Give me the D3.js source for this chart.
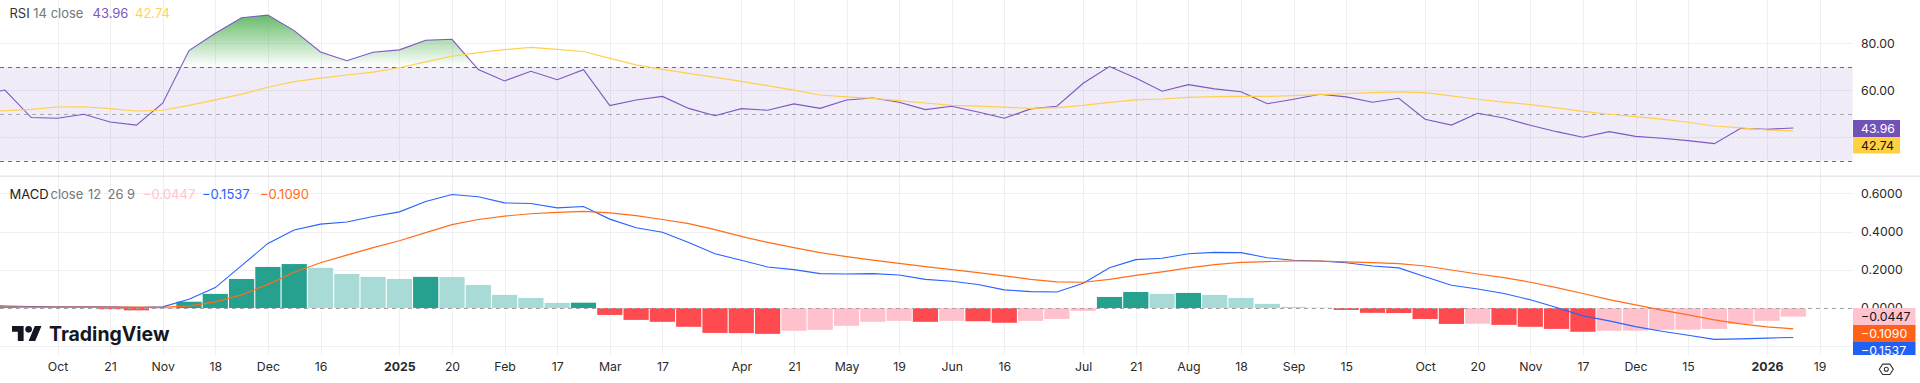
<!DOCTYPE html>
<html>
<head>
<meta charset="utf-8">
<script src="https://cdn.jsdelivr.net/npm/d3@7"></script>
<style>
html,body{margin:0;padding:0;background:#fff;overflow:hidden}
svg{display:block;font-family:Inter,Roboto,sans-serif}
.tick text{font-family:Inter,Roboto,sans-serif;font-size:12.3px;fill:#2a2a2a}
</style>
</head>
<body>
<svg id="chart" width="1920" height="383"></svg>
<script>
// Weekly bars; first entry is the week of 2024-09-16
const firstWeek = "2024-09-16";
const rsi = [58,60.1,48.4,48.1,49.8,46.5,45.2,54.5,76.9,84.3,90.9,92,85.4,76.3,72.6,76.2,77.2,81.3,81.7,68.8,64,68.1,64.5,68.8,53.5,55.9,57.4,52.3,49.2,52.2,51.5,54.2,52.3,55.9,56.7,54.9,51.8,53.2,50.8,48.1,52.1,53.2,63,70.1,65.2,59.6,62.4,60.6,59.4,54.3,56.2,58.3,57.2,54.9,56.6,47.7,45.2,50.2,48.2,45.1,42.4,40,42.4,40.4,39.6,38.6,37.3,43.8,43.4,43.96];
const rsiMa = [51,51.3,51.9,52.9,53,52.2,51.2,51.5,53.6,55.9,58.4,61.3,63.7,65.2,66.5,67.7,69.6,72.1,74.5,76,77.3,78.3,77.4,76.5,73.6,70.8,68.9,67.2,65.5,63.8,62,60.1,58,57.2,56.6,55.6,54.6,53.6,53.3,52.8,52.3,52.6,53.6,54.9,55.9,56.3,57,57.3,57.4,57.4,57.7,58.2,58.6,59,59.3,59,57.6,56.2,55,53.9,52.5,51,49.8,48.8,47.7,46.4,44.8,44,43.1,42.74];
const macd = [0.013,0.011,0.008,0.006,0.006,0.006,0.003,0.006,0.046,0.107,0.222,0.338,0.408,0.439,0.45,0.479,0.503,0.557,0.594,0.582,0.55,0.547,0.524,0.531,0.465,0.42,0.396,0.343,0.284,0.25,0.215,0.201,0.18,0.178,0.18,0.173,0.15,0.14,0.123,0.095,0.086,0.084,0.13,0.211,0.253,0.26,0.284,0.291,0.29,0.263,0.25,0.246,0.237,0.22,0.21,0.164,0.119,0.1,0.076,0.043,0.003,-0.041,-0.067,-0.097,-0.121,-0.142,-0.164,-0.161,-0.157,-0.1537];
const signal = [0.003,0.005,0.005,0.005,0.005,0.005,0.005,0.004,0.011,0.032,0.069,0.124,0.187,0.237,0.277,0.316,0.352,0.394,0.436,0.463,0.481,0.493,0.5,0.505,0.498,0.483,0.463,0.441,0.41,0.375,0.343,0.316,0.29,0.269,0.251,0.234,0.217,0.201,0.185,0.168,0.15,0.137,0.135,0.15,0.171,0.189,0.21,0.227,0.239,0.243,0.246,0.246,0.241,0.237,0.232,0.22,0.199,0.178,0.159,0.135,0.107,0.076,0.044,0.017,-0.011,-0.036,-0.062,-0.083,-0.098,-0.109];
const hist = [0.006,0.008,0.004,0.003,0.002,-0.006,-0.012,-0.004,0.033,0.074,0.152,0.215,0.23,0.21,0.178,0.163,0.152,0.163,0.162,0.121,0.069,0.053,0.027,0.028,-0.036,-0.062,-0.072,-0.098,-0.13,-0.131,-0.135,-0.119,-0.114,-0.093,-0.072,-0.067,-0.072,-0.067,-0.069,-0.077,-0.067,-0.057,-0.015,0.058,0.084,0.074,0.079,0.069,0.053,0.022,0.006,0.002,-0.01,-0.025,-0.026,-0.057,-0.083,-0.082,-0.088,-0.098,-0.109,-0.124,-0.119,-0.118,-0.114,-0.113,-0.109,-0.083,-0.067,-0.0447];

const tickDates = ["2024-10-07","2024-10-21","2024-11-04","2024-11-18","2024-12-02","2024-12-16","2025-01-06","2025-01-20","2025-02-03","2025-02-17","2025-03-03","2025-03-17","2025-04-07","2025-04-21","2025-05-05","2025-05-19","2025-06-02","2025-06-16","2025-07-07","2025-07-21","2025-08-04","2025-08-18","2025-09-01","2025-09-15","2025-10-06","2025-10-20","2025-11-03","2025-11-17","2025-12-01","2025-12-15","2026-01-05","2026-01-19"];
const tickLabels = ["Oct","21","Nov","18","Dec","16","2025","20","Feb","17","Mar","17","Apr","21","May","19","Jun","16","Jul","21","Aug","18","Sep","15","Oct","20","Nov","17","Dec","15","2026","19"];
const rsiTicks = [80,60];
const rsiGrid = [80,60,40];
const rsiLevels = [70,50,30];
const macdTicks = [0.6,0.4,0.2,0];
const macdGrid = [0.6,0.4,0.2,-0.2];

const parse = d3.utcParse("%Y-%m-%d");
const weeks = rsi.map((_, i) => d3.utcDay.offset(parse(firstWeek), i * 7));
const plotR = 1852.5, plotB = 355;

const x = d3.scaleUtc().domain([parse("2024-10-07"), parse("2026-01-05")]).range([57.5, 1767]);
const yR = d3.scaleLinear().domain([80, 40]).range([43.3, 137.3]);
const yM = d3.scaleLinear().domain([0.6, -0.2]).range([193.3, 346.3]);

const svg = d3.select("#chart");
const defs = svg.append("defs");
defs.append("clipPath").attr("id", "plot").append("rect").attr("x", 0).attr("y", 0).attr("width", plotR).attr("height", plotB);
defs.append("clipPath").attr("id", "ob").append("rect").attr("x", 0).attr("y", 0).attr("width", plotR).attr("height", yR(70));
defs.append("clipPath").attr("id", "tags").append("rect").attr("x", 1853).attr("y", 300).attr("width", 67).attr("height", plotB - 300);
const grad = defs.append("linearGradient").attr("id", "obFill").attr("gradientUnits", "userSpaceOnUse")
  .attr("x1", 0).attr("x2", 0).attr("y1", yR(92)).attr("y2", yR(70));
grad.append("stop").attr("offset", 0).attr("stop-color", "#4caf50").attr("stop-opacity", 0.85);
grad.append("stop").attr("offset", 1).attr("stop-color", "#4caf50").attr("stop-opacity", 0);
const pat = defs.append("pattern").attr("id", "dots").attr("width", 5).attr("height", 5).attr("patternUnits", "userSpaceOnUse");
pat.append("rect").attr("width", 5).attr("height", 5).attr("fill", "rgba(126,87,194,0.115)");
pat.append("rect").attr("x", 1).attr("y", 1).attr("width", 1).attr("height", 1).attr("fill", "rgba(126,87,194,0.05)");
pat.append("rect").attr("x", 3).attr("y", 3).attr("width", 1).attr("height", 1).attr("fill", "rgba(126,87,194,0.05)");

const gridColor = "#efeff1";
// vertical grid
svg.append("g").selectAll("line").data(tickDates).join("line")
  .attr("x1", d => Math.round(x(parse(d))) + 0.5).attr("x2", d => Math.round(x(parse(d))) + 0.5)
  .attr("y1", 0).attr("y2", plotB).attr("stroke", gridColor);
// horizontal grids
svg.append("g").selectAll("line").data(rsiGrid).join("line")
  .attr("x1", 0).attr("x2", plotR).attr("y1", d => Math.round(yR(d)) + 0.5).attr("y2", d => Math.round(yR(d)) + 0.5).attr("stroke", gridColor);
svg.append("g").selectAll("line").data(macdGrid).join("line")
  .attr("x1", 0).attr("x2", plotR).attr("y1", d => Math.round(yM(d)) + 0.5).attr("y2", d => Math.round(yM(d)) + 0.5).attr("stroke", gridColor);
// pane separator
svg.append("line").attr("x1", 0).attr("x2", 1920).attr("y1", 176.3).attr("y2", 176.3).attr("stroke", "#e8e8ea").attr("stroke-width", 1.5);

// RSI band
svg.append("rect").attr("x", 0).attr("y", yR(70)).attr("width", plotR).attr("height", yR(30) - yR(70)).attr("fill", "url(#dots)");
// RSI levels
svg.append("g").selectAll("line").data(rsiLevels).join("line")
  .attr("x1", 0).attr("x2", plotR).attr("y1", d => Math.round(yR(d)) + 0.5).attr("y2", d => Math.round(yR(d)) + 0.5)
  .attr("stroke", d => d === 50 ? "#a9a8b0" : "#6f6c78").attr("stroke-dasharray", "4 4");

// overbought fill
const area = d3.area().x((d, i) => x(weeks[i])).y0(yR(70)).y1(d => yR(d));
svg.append("path").datum(rsi).attr("d", area).attr("fill", "url(#obFill)").attr("clip-path", "url(#ob)");

// RSI lines
const lineR = d3.line().x((d, i) => x(weeks[i])).y(d => yR(d));
const gR = svg.append("g").attr("clip-path", "url(#plot)").attr("fill", "none");
gR.append("path").datum(rsi).attr("d", lineR).attr("stroke", "#7e57c2").attr("stroke-width", 1.1);
gR.append("path").datum(rsiMa).attr("d", lineR).attr("stroke", "#ffd04f").attr("stroke-width", 1.2);

// histogram
const histColor = (d, i) => {
  const prev = i ? hist[i - 1] : 0;
  const rising = d >= prev;
  return d >= 0 ? (rising ? "#26a08f" : "#a9dbd6") : (rising ? "#ffc2cc" : "#ff4b50");
};
svg.append("g").attr("clip-path", "url(#plot)").selectAll("rect").data(hist).join("rect")
  .attr("x", (d, i) => x(weeks[i]) - 12.6).attr("width", 25.2)
  .attr("y", d => Math.min(yM(d), yM(0))).attr("height", d => Math.abs(yM(d) - yM(0)))
  .attr("fill", histColor);
svg.append("line").attr("x1", 0).attr("x2", plotR).attr("y1", Math.round(yM(0)) + 0.5).attr("y2", Math.round(yM(0)) + 0.5)
  .attr("stroke", "#a3a3a8").attr("stroke-dasharray", "4 4");

// MACD lines
const lineM = d3.line().x((d, i) => x(weeks[i])).y(d => yM(d));
const gM = svg.append("g").attr("clip-path", "url(#plot)").attr("fill", "none");
gM.append("path").datum(macd).attr("d", lineM).attr("stroke", "#2962ff").attr("stroke-width", 1.1);
gM.append("path").datum(signal).attr("d", lineM).attr("stroke", "#ff6d1a").attr("stroke-width", 1.2);

// axes
const axX = d3.axisBottom(x).tickValues(tickDates.map(parse)).tickSize(0).tickPadding(0)
  .tickFormat((d, i) => tickLabels[i]);
const gx = svg.append("g").attr("transform", "translate(0,361)").call(axX);
gx.select(".domain").remove();
gx.selectAll("text").attr("dy", "0.8em").attr("font-weight", (d, i) => /^20\d\d$/.test(tickLabels[i]) ? 700 : 400);

const axR = d3.axisRight(yR).tickValues(rsiTicks).tickSize(0).tickPadding(8.5).tickFormat(d3.format(".2f"));
const gax = svg.append("g").attr("transform", `translate(${plotR},0)`).call(axR);
gax.select(".domain").remove();
const axM = d3.axisRight(yM).tickValues(macdTicks).tickSize(0).tickPadding(8.5).tickFormat(d3.format(".4f"));
const gam = svg.append("g").attr("transform", `translate(${plotR},0)`).call(axM);
gam.select(".domain").remove();

// value tags
const tags = [
  {label:"43.96",   bg:"#7352b8", fg:"#fff", x:1853, y:120, w:47, h:17},
  {label:"42.74",   bg:"#ffd03f", fg:"#131722", x:1853, y:137, w:47, h:16.5},
  {label:"\u22120.0447", bg:"#ffc4cd", fg:"#131722", x:1853, y:308, w:62.5, h:17},
  {label:"\u22120.1090", bg:"#ff6119", fg:"#fff", x:1853, y:325, w:62.5, h:17},
  {label:"\u22120.1537", bg:"#2160f5", fg:"#fff", x:1853, y:342, w:62.5, h:17}
];
const gt = svg.append("g");
const tg = gt.selectAll("g").data(tags).join("g").attr("clip-path", d => d.y > 300 ? "url(#tags)" : null);
tg.append("rect").attr("x", d => d.x).attr("y", d => d.y).attr("width", d => d.w).attr("height", d => d.h).attr("fill", d => d.bg);
tg.append("text").attr("x", 1861).attr("y", d => d.y + d.h / 2).attr("dy", "0.35em")
  .attr("font-size", 12.3).attr("fill", d => d.fg).text(d => d.label);

// legends
const legends = [
  {t:"RSI", x:9.5, y:18, c:"#333"},
  {t:"14 close", x:33.3, y:18, c:"#777"},
  {t:"43.96", x:92.5, y:18, c:"#7e57c2"},
  {t:"42.74", x:135, y:18, c:"#ffd15a"},
  {t:"MACD", x:9.5, y:199, c:"#222"},
  {t:"close", x:50.5, y:199, c:"#777"},
  {t:"12", x:88, y:199, c:"#777"},
  {t:"26", x:107.5, y:199, c:"#777"},
  {t:"9", x:127, y:199, c:"#777"},
  {t:"\u22120.0447", x:143, y:199, c:"#ffc4cd"},
  {t:"\u22120.1537", x:202, y:199, c:"#2962ff"},
  {t:"\u22120.1090", x:260, y:199, c:"#ff6d1a"}
];
svg.append("g").selectAll("text").data(legends).join("text")
  .attr("x", d => d.x).attr("y", d => d.y).attr("fill", d => d.c).attr("font-size", 13).text(d => d.t);

// logo
const logo = svg.append("g").attr("transform", "translate(12,322.7) scale(0.83)").attr("fill", "#131722");
logo.append("path").attr("d", "M14 22H7V11H0V4h14v18zM28 22h-8l7.5-18h8L28 22z");
logo.append("circle").attr("cx", 20).attr("cy", 8).attr("r", 4);
svg.append("text").attr("x", 49).attr("y", 340.7).attr("fill", "#131722")
  .attr("font-family", "Inter, Roboto, sans-serif").attr("font-weight", 700).attr("font-size", 20)
  .attr("textLength", 120.5).attr("lengthAdjust", "spacingAndGlyphs").text("TradingView");

// settings icon
const icon = svg.append("g").attr("transform", "translate(1886.3,369.3)").attr("fill", "none").attr("stroke", "#333").attr("stroke-width", 1.1);
icon.append("path").attr("d", "M-7,0 L-3.6,-5.2 H3.6 L7,0 L3.6,5.2 H-3.6 Z");
icon.append("circle").attr("r", 2);
</script>
</body>
</html>
